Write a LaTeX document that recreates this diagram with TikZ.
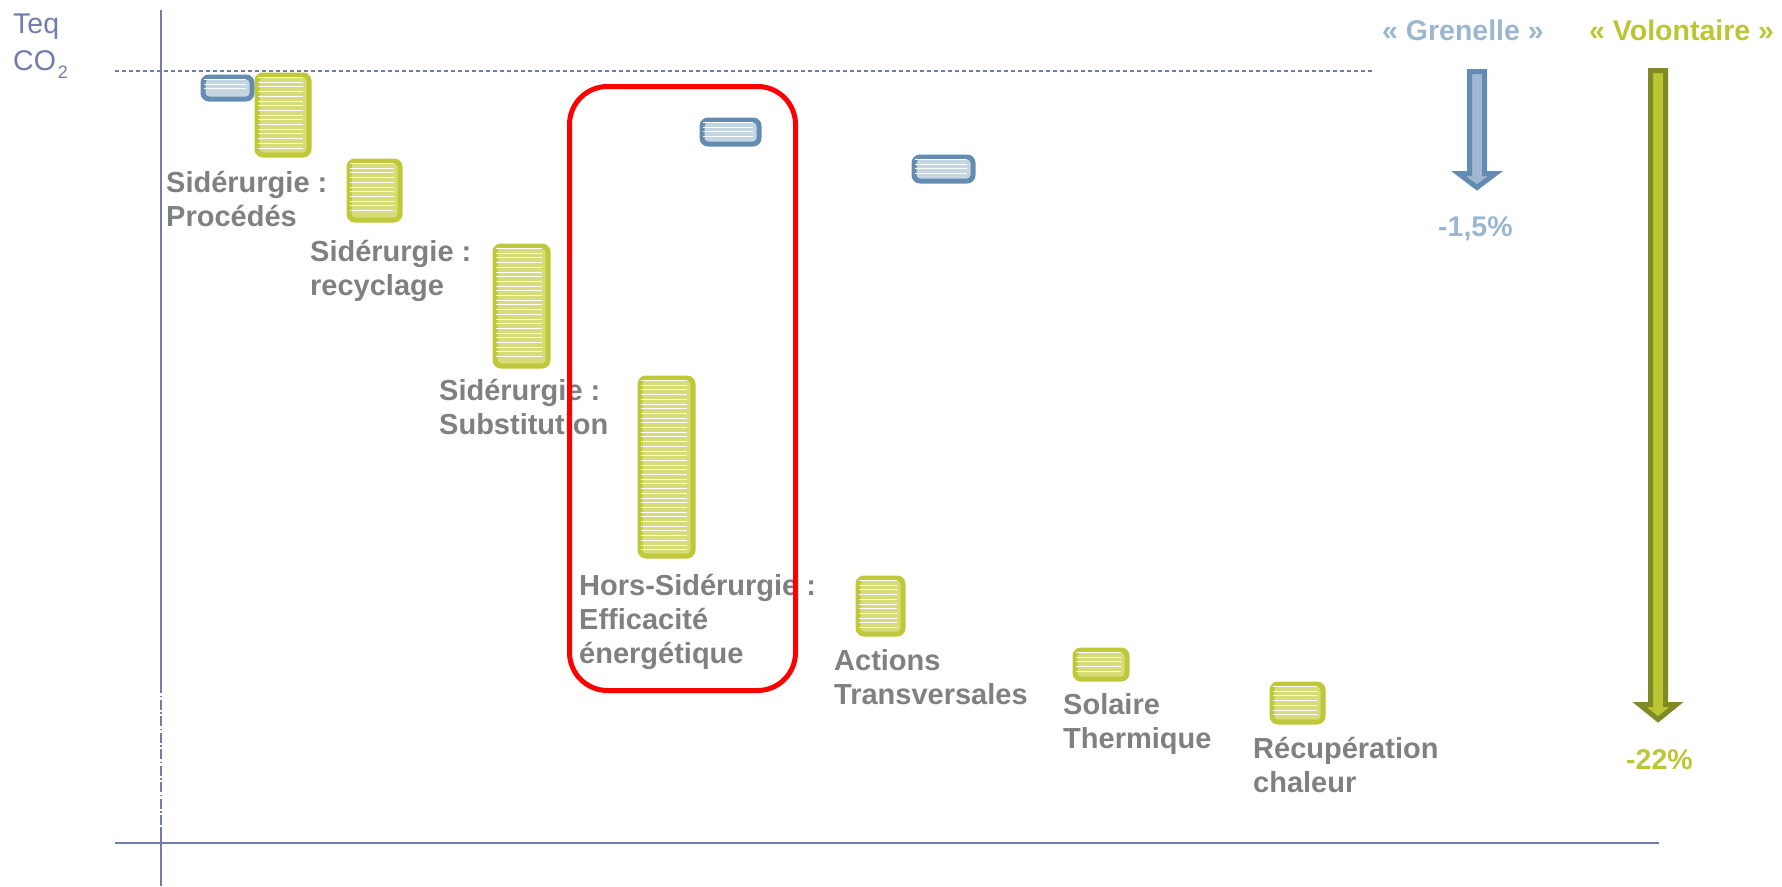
\documentclass[tikz,border=0pt]{standalone}
\usepackage{fontspec}
\setmainfont{Liberation Sans}
\usetikzlibrary{calc}
\definecolor{axisc}{RGB}{112,124,170}
\definecolor{labgray}{RGB}{128,128,128}
\definecolor{gborder}{RGB}{190,200,56}
\definecolor{gfill}{RGB}{213,220,120}
\definecolor{bborder}{RGB}{100,140,178}
\definecolor{bfill}{RGB}{197,213,226}
\definecolor{grenc}{RGB}{155,183,208}
\definecolor{volc}{RGB}{188,198,52}
\definecolor{garrfill}{RGB}{160,185,208}
\definecolor{varrborder}{RGB}{128,138,38}
\tikzset{
  lbl/.style={anchor=base west, inner sep=0pt, text=labgray, font=\bfseries\fontsize{29}{34}\selectfont},
  toplbl/.style={anchor=base west, inner sep=0pt, font=\bfseries\fontsize{28.5}{34}\selectfont},
  axlbl/.style={anchor=base west, inner sep=0pt, text=axisc, font=\fontsize{28.5}{34}\selectfont},
  gbar/.style={draw=gborder, fill=gfill, line width=5pt, rounded corners=6pt, inner sep=0pt},
  bbar/.style={draw=bborder, fill=bfill, line width=5pt, rounded corners=6pt, inner sep=0pt},
  axisline/.style={draw=axisc, line width=2pt},
}
\newcommand{\stripedbar}[6]{%
  \pgfmathsetmacro{\sbw}{#5-#3-5}%
  \pgfmathsetmacro{\sbh}{#6-#4-5}%
  \node[#2, minimum width=\sbw pt, minimum height=\sbh pt, anchor=north west] (#1) at (#3+2.5,#4+2.5) {};%
  \pgfmathsetmacro{\sya}{#4+7.5}%
  \pgfmathsetmacro{\syb}{#4+12.2}%
  \pgfmathsetmacro{\syc}{#6-6}%
  \foreach \yy in {\sya,\syb,...,\syc} {\draw[white, line width=1pt] (#3+6,\yy) -- (#5-6,\yy);}%
}
\begin{document}
\begin{tikzpicture}[x=1pt,y=-1pt]
\useasboundingbox (0,0) rectangle (1782,886);
% axes
\coordinate (vtop) at (161,10);
\coordinate (vmid1) at (161,683);
\coordinate (vmid2) at (161,827);
\coordinate (vbot) at (161,886);
\draw[axisline] (vtop) -- (vmid1);
\draw[axisline, line width=1.6pt, dash pattern=on 10pt off 2.5pt on 1.5pt off 2.5pt] (vmid1) -- (vmid2);
\draw[axisline] (vmid2) -- (vbot);
\coordinate (hl) at (115,843);
\coordinate (hr) at (1659,843);
\draw[axisline] (hl) -- (hr);
\coordinate (dl) at (115,71);
\coordinate (dr) at (1372,71);
\draw[draw=axisc, line width=1.3pt, dash pattern=on 4pt off 3pt] (dl) -- (dr);
% axis label
\node[axlbl] (teq) at (13,33) {Teq};
\node[axlbl] (co2) at (13,70) {CO\hspace{2pt}\raisebox{-8pt}{\fontsize{18}{18}\selectfont 2}};
% bars
\stripedbar{b1}{bbar}{198}{72}{252}{99}
\stripedbar{g1}{gbar}{252}{70}{309}{155}
\stripedbar{g2}{gbar}{344}{156}{400}{220}
\stripedbar{g3}{gbar}{490}{241}{548}{366}
\stripedbar{b2}{bbar}{697}{115}{759}{144}
\stripedbar{g4}{gbar}{635}{373}{693}{556}
\stripedbar{b3}{bbar}{909}{152}{973}{181}
\stripedbar{g5}{gbar}{853}{573}{903}{634}
\stripedbar{g6}{gbar}{1070}{645}{1127}{679}
\stripedbar{g7}{gbar}{1267}{679}{1323}{722}
% labels
\node[lbl] (l1a) at (166,192) {Sidérurgie :};
\node[lbl] (l1b) at (166,226) {Procédés};
\node[lbl] (l2a) at (310,261) {Sidérurgie :};
\node[lbl] (l2b) at (310,295) {recyclage};
\node[lbl] (l3a) at (439,400) {Sidérurgie :};
\node[lbl] (l3b) at (439,434) {Substitution};
\node[lbl] (l4a) at (579,595) {Hors-Sidérurgie :};
\node[lbl] (l4b) at (579,629) {Efficacité};
\node[lbl] (l4c) at (579,663) {énergétique};
\node[lbl] (l5a) at (834,670) {Actions};
\node[lbl] (l5b) at (834,704) {Transversales};
\node[lbl] (l6a) at (1063,714) {Solaire};
\node[lbl] (l6b) at (1063,748) {Thermique};
\node[lbl] (l7a) at (1253,758) {Récupération};
\node[lbl] (l7b) at (1253,792) {chaleur};
% red frame
\draw[red, line width=5pt, rounded corners=38pt] (569.5,86.5) rectangle (795.5,690.5);
% top labels
\node[toplbl, text=grenc] (gren) at (1382,40) {« Grenelle »};
\node[toplbl, text=volc] (vol) at (1589,40) {« Volontaire »};
\node[toplbl, text=grenc] (gpct) at (1438,236) {-1,5\%};
\node[toplbl, text=volc] (vpct) at (1626,769) {-22\%};
% arrows
\draw[draw=bborder, fill=garrfill, line width=5pt, miter limit=10]
  (1469.5,71.5) -- (1484.5,71.5) -- (1484.5,173.5) -- (1495.5,173.5) -- (1477,187.5)
  -- (1458.5,173.5) -- (1469.5,173.5) -- cycle;
\draw[draw=varrborder, fill=volc, line width=5pt, miter limit=10]
  (1650.5,70.5) -- (1665.5,70.5) -- (1665.5,704.5) -- (1676.5,704.5) -- (1658,719.5)
  -- (1639.5,704.5) -- (1650.5,704.5) -- cycle;
\end{tikzpicture}
\end{document}
